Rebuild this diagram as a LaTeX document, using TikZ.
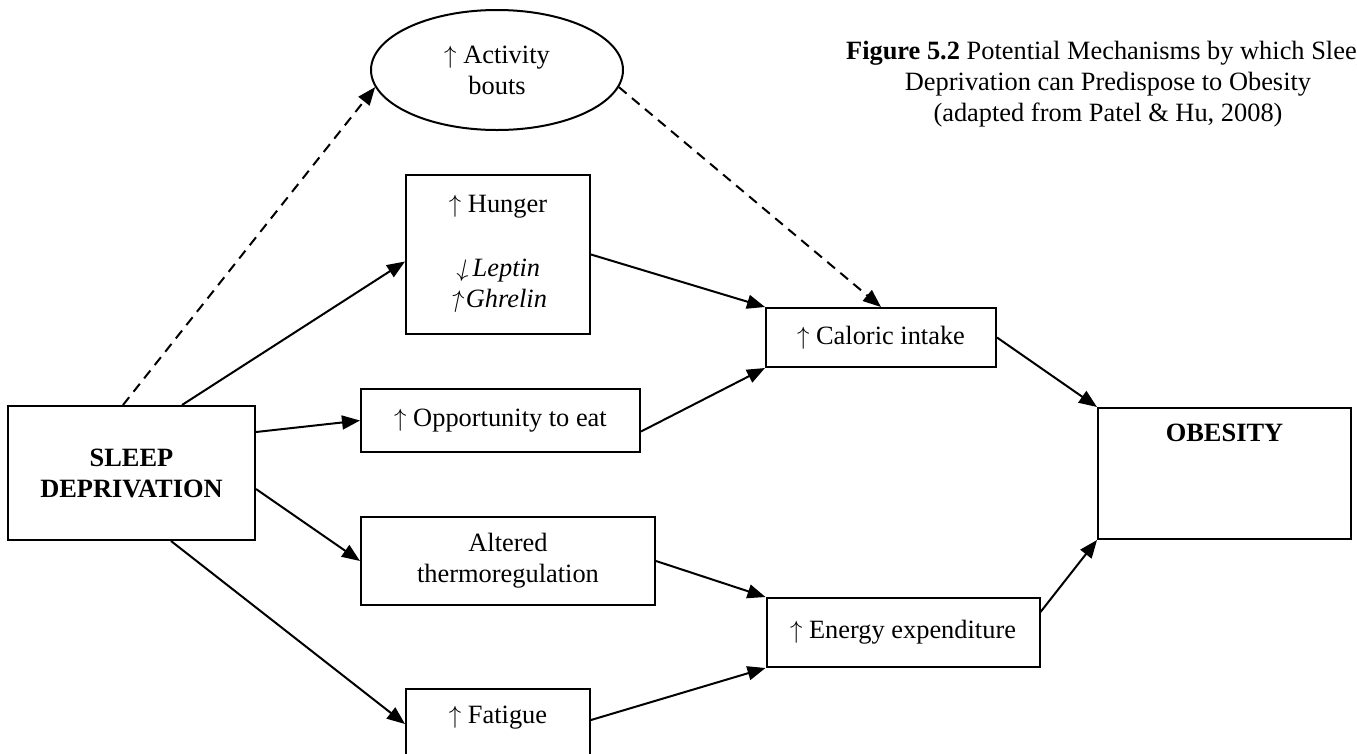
\documentclass[tikz,border=0pt]{standalone}
\usepackage{fontspec}
\usepackage{graphicx}
\setmainfont{Liberation Serif}
\usetikzlibrary{arrows.meta,shapes.geometric}
% arrows used in the labels
\newcommand{\upar}{\ensuremath{\uparrow}}
\newcommand{\itupar}{\rotatebox[origin=c]{-12}{\ensuremath{\uparrow}}}
\newcommand{\itdownar}{\rotatebox[origin=c]{-12}{\ensuremath{\downarrow}}}
\begin{document}
\begin{tikzpicture}[x=1pt,y=-1pt,
  every node/.style={font=\fontsize{26.4}{31}\selectfont},
  box/.style={draw,line width=2pt,rectangle,inner sep=0pt,align=center},
  oval/.style={draw,line width=2pt,ellipse,inner sep=0pt,align=center},
  link/.style={line width=2pt,-{Triangle[length=18pt,width=14pt]}},
  dlink/.style={link,dash pattern=on 10pt off 7pt}]
\clip (0,0) rectangle (1357,753);

% caption
\node[anchor=north,align=center,inner sep=0pt] (cap) at (1108,41)
  {\textbf{Figure 5.2} Potential Mechanisms by which Sleep\\
   Deprivation can Predispose to Obesity\\
   (adapted from Patel \& Hu, 2008)};

% boxes
\node[box,minimum width=247pt,minimum height=134pt] (sleep) at (131.5,473)
  {\textbf{SLEEP}\\\textbf{DEPRIVATION}};
\node[oval,minimum width=252pt,minimum height=120pt] (act) at (497,70)
  {\upar{} Activity\\bouts};
\node[box,minimum width=184pt,minimum height=159pt] (hunger) at (498,254.5)
  {\upar{} Hunger\\[33pt]\itdownar\textit{Leptin}\\\itupar\textit{Ghrelin}};
\node[box,minimum width=279pt,minimum height=63pt] (opp) at (500.5,420.5)
  {\upar{} Opportunity to eat};
\node[box,minimum width=294pt,minimum height=88pt] (alt) at (508,561)
  {Altered\\thermoregulation};
\node[box,minimum width=184pt,minimum height=101pt,
  label={[anchor=north,inner sep=0pt,yshift=-18pt]north:\upar{} Fatigue}] (fat) at (498,739.5) {};
\node[box,minimum width=230pt,minimum height=59pt] (cal) at (881,337.5)
  {\upar{} Caloric intake};
\node[box,minimum width=273pt,minimum height=69pt] (energy) at (903,632.5)
  {\upar{} Energy expenditure};
\node[box,minimum width=253pt,minimum height=131pt,
  label={[anchor=north,inner sep=0pt,yshift=-17pt]north:\textbf{OBESITY}}] (obes) at (1224.5,473.5) {};

% connectors
\draw[dlink] ([xshift=116pt]sleep.north west) -- (act.188);
\draw[link] ([xshift=175pt]sleep.north west) -- ([yshift=-7pt]hunger.west);
\draw[link] ([yshift=-27pt]sleep.north east) -- (opp.west);
\draw[link] ([yshift=52pt]sleep.south east) -- (alt.west);
\draw[link] ([xshift=164pt]sleep.south west) -- ([yshift=-36pt]fat.north west);
\draw[link] (hunger.east) -- (cal.north west);
\draw[dlink] (act.352) -- (cal.north);
\draw[link] ([yshift=-11pt]opp.east) -- (cal.south west);
\draw[link] (cal.east) -- (obes.north west);
\draw[link] (alt.east) -- (energy.north west);
\draw[link] ([yshift=-32pt]fat.north east) -- (energy.south west);
\draw[link] ([yshift=-15pt]energy.north east) -- (obes.south west);
\end{tikzpicture}
\end{document}
